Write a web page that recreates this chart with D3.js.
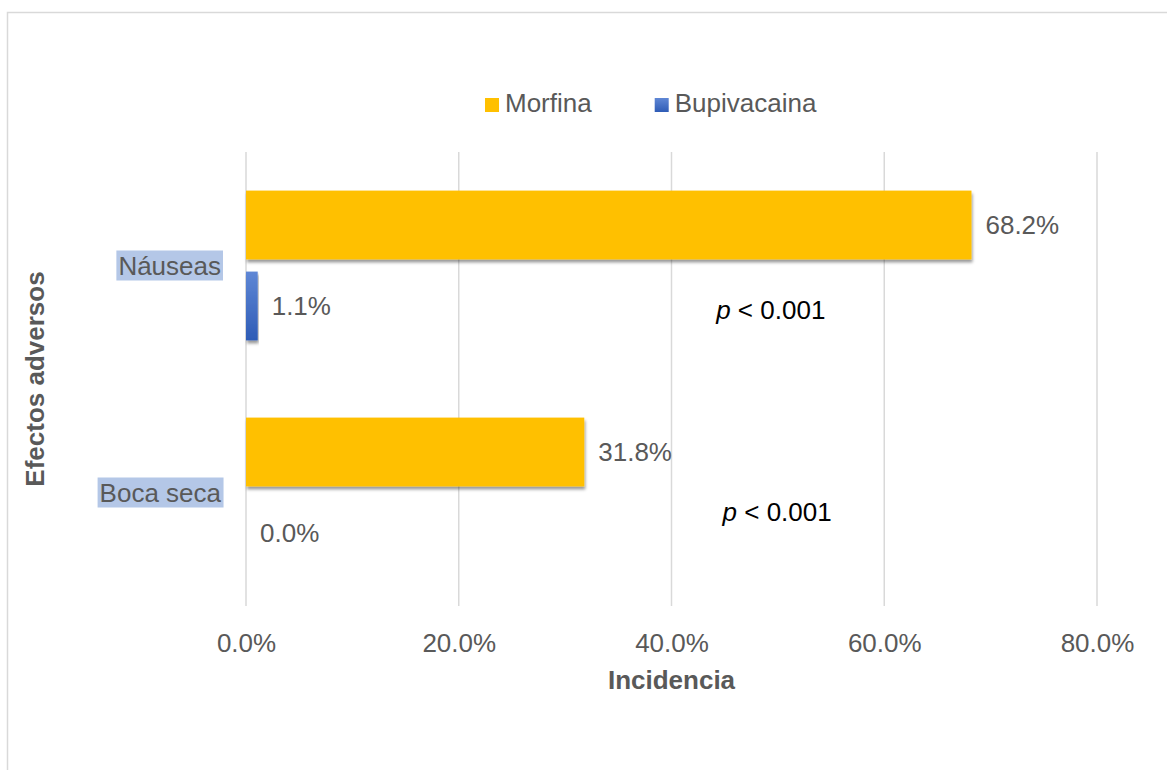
<!DOCTYPE html>
<html>
<head>
<meta charset="utf-8">
<script src="https://cdn.jsdelivr.net/npm/d3@7"></script>
<style>
  body { margin: 0; background: #fff; }
  text { font-family: "Liberation Sans", Arial, sans-serif; }
</style>
</head>
<body>
<div id="chart"></div>
<script>
// data
var categories = ["Náuseas", "Boca seca"];
var series = ["Morfina", "Bupivacaina"];
var morfina = [68.2, 31.8];
var bupivacaina = [1.1, 0.0];
var xTicks = [0, 20, 40, 60, 80];
var annotations = ["< 0.001", "< 0.001"];   // one per category, "p" goes in front

var width = 1167, height = 770;
var plot = {top: 152, bottom: 606, left: 246, right: 1097};
var colors = {Morfina: "#ffc000", Bupivacaina: "url(#blueGrad)"};
var textGray = "#595959";

var svg = d3.select("#chart")
  .append("svg")
    .attr("width", width)
    .attr("height", height);

var defs = svg.append("defs");
var grad = defs.append("linearGradient")
    .attr("id", "blueGrad")
    .attr("x1", 0).attr("y1", 0).attr("x2", 0).attr("y2", 1);
grad.append("stop").attr("offset", "0%").attr("stop-color", "#5f87d5");
grad.append("stop").attr("offset", "100%").attr("stop-color", "#2e5cb6");

var shadow = defs.append("filter")
    .attr("id", "shadow")
    .attr("x", "-5%").attr("y", "-20%").attr("width", "110%").attr("height", "140%");
shadow.append("feDropShadow")
    .attr("dx", 1).attr("dy", 3)
    .attr("stdDeviation", 1.5)
    .attr("flood-color", "#000")
    .attr("flood-opacity", 0.4);

// chart area frame (runs off the right and bottom edge)
svg.append("path")
    .attr("d", "M7.5," + (height + 5) + "V12.5H" + (width + 5))
    .attr("fill", "none")
    .attr("stroke", "#d9d9d9")
    .attr("stroke-width", 1.5);

// Scales
var x = d3.scaleLinear()
    .domain([0, 80])
    .range([plot.left, plot.right]);

var y = d3.scaleBand()
    .domain(categories)
    .range([plot.top, plot.bottom])
    .paddingInner(0.34)
    .paddingOuter(0.17);

var ySub = d3.scaleBand()
    .domain(series)
    .range([0, y.bandwidth()])
    .paddingInner(0.15)
    .paddingOuter(0);

// gridlines
svg.append("g")
  .selectAll("line")
  .data(xTicks)
  .enter()
  .append("line")
    .attr("x1", function(d) { return x(d); })
    .attr("x2", function(d) { return x(d); })
    .attr("y1", plot.top)
    .attr("y2", plot.bottom)
    .attr("stroke", "#d9d9d9")
    .attr("stroke-width", 1.5);

// x axis tick labels
var xAxis = d3.axisBottom(x)
    .tickValues(xTicks)
    .tickSize(0)
    .tickPadding(0)
    .tickFormat(function(d) { return d.toFixed(1) + "%"; });

var gx = svg.append("g")
    .attr("transform", "translate(0," + plot.bottom + ")")
    .call(xAxis);
gx.select(".domain").remove();
gx.selectAll("text")
    .attr("dy", null)
    .attr("y", 46)
    .attr("fill", textGray)
    .style("font-size", "26px")
    .style("font-family", "'Liberation Sans', Arial, sans-serif");

// rows
var rows = categories.map(function(c, i) {
  return {cat: c, values: [
    {series: "Morfina", value: morfina[i]},
    {series: "Bupivacaina", value: bupivacaina[i]}
  ]};
});

var groups = svg.append("g")
  .selectAll("g")
  .data(rows)
  .enter()
  .append("g")
    .attr("transform", function(d) { return "translate(0," + y(d.cat) + ")"; });

groups.selectAll("rect")
  .data(function(d) { return d.values.filter(function(v) { return v.value > 0; }); })
  .enter()
  .append("rect")
    .attr("x", x(0))
    .attr("y", function(d) { return ySub(d.series); })
    .attr("width", function(d) { return x(d.value) - x(0); })
    .attr("height", ySub.bandwidth())
    .attr("fill", function(d) { return colors[d.series]; })
    .attr("filter", "url(#shadow)");

groups.selectAll("text.val")
  .data(function(d) { return d.values; })
  .enter()
  .append("text")
    .attr("class", "val")
    .attr("x", function(d) { return x(d.value) + 14; })
    .attr("y", function(d) { return ySub(d.series) + ySub.bandwidth() / 2 + 9; })
    .attr("fill", textGray)
    .style("font-size", "26px")
    .text(function(d) { return d.value.toFixed(1) + "%"; });

// p-value notes
var pOffsets = [[44.2, 44], [44.8, 19]];
var notes = svg.append("g")
  .selectAll("text")
  .data(annotations)
  .enter()
  .append("text")
    .attr("x", function(d, i) { return x(pOffsets[i][0]); })
    .attr("y", function(d, i) { return y(categories[i]) + y.bandwidth() / 2 + pOffsets[i][1] + 9; })
    .attr("fill", "#000")
    .style("font-size", "26px");
notes.append("tspan").style("font-style", "italic").text("p");
notes.append("tspan").text(function(d) { return " " + d; });

// category labels with highlighted background
var catG = svg.append("g")
  .selectAll("g")
  .data(categories)
  .enter()
  .append("g");
var catText = catG.append("text")
    .attr("x", plot.left - 25)
    .attr("y", function(d) { return y(d) + y.bandwidth() / 2 + 9; })
    .attr("text-anchor", "end")
    .attr("fill", textGray)
    .style("font-size", "26px")
    .text(function(d) { return d; });
catG.each(function() {
  var g = d3.select(this);
  var bb = g.select("text").node().getBBox();
  g.insert("rect", "text")
    .attr("x", bb.x - 2)
    .attr("y", bb.y)
    .attr("width", bb.width + 4)
    .attr("height", bb.height)
    .attr("fill", "#b4c7e7");
});

// axis titles
svg.append("text")
    .attr("x", (plot.left + plot.right) / 2)
    .attr("y", 689)
    .attr("text-anchor", "middle")
    .attr("fill", textGray)
    .style("font-size", "26px")
    .style("font-weight", "bold")
    .text("Incidencia");

svg.append("text")
    .attr("transform", "translate(44," + 379 + ") rotate(-90)")
    .attr("text-anchor", "middle")
    .attr("fill", textGray)
    .style("font-size", "26px")
    .style("font-weight", "bold")
    .text("Efectos adversos");

// legend
var legend = svg.append("g").attr("transform", "translate(485,98)");
var lx = 0;
series.forEach(function(s) {
  legend.append("rect")
      .attr("x", lx).attr("y", 0)
      .attr("width", 14).attr("height", 14)
      .attr("fill", colors[s]);
  var t = legend.append("text")
      .attr("x", lx + 20)
      .attr("y", 14)
      .attr("fill", textGray)
      .style("font-size", "26px")
      .text(s);
  lx += 20 + t.node().getComputedTextLength() + 63;
});
</script>
</body>
</html>
